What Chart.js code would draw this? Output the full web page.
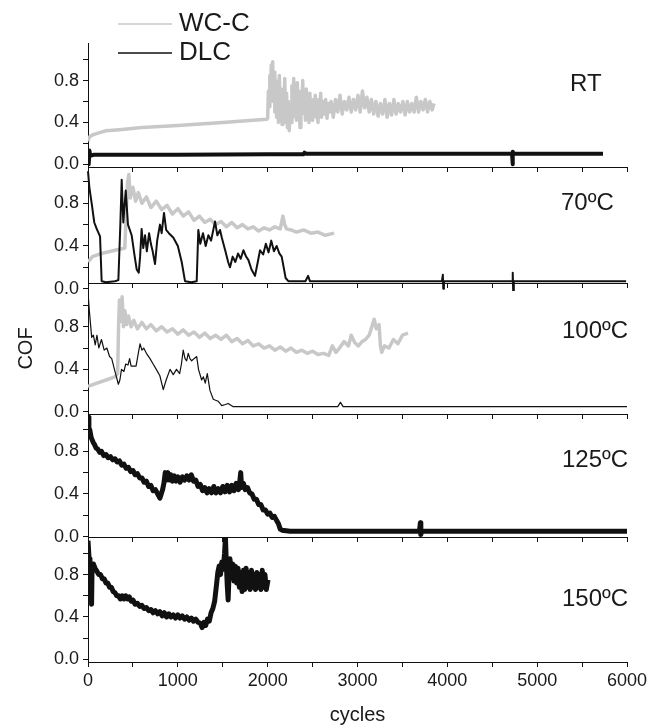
<!DOCTYPE html>
<html>
<head>
<meta charset="utf-8">
<script src="https://cdn.jsdelivr.net/npm/chart.js@4/dist/chart.umd.min.js"></script>
<style>
  html, body { margin: 0; padding: 0; background: #fff; }
  #wrap { position: relative; width: 662px; height: 727px; }
  #wrap canvas { position: absolute; left: 0; top: 0; }
</style>
</head>
<body>
<div id="wrap">
  <canvas id="panel0" width="662" height="727"></canvas>
  <canvas id="panel1" width="662" height="727"></canvas>
  <canvas id="panel2" width="662" height="727"></canvas>
  <canvas id="panel3" width="662" height="727"></canvas>
  <canvas id="panel4" width="662" height="727"></canvas>
</div>
<script>
// ticks and labels
const ciclosTicks = [0, 500, 1000, 1500, 2000, 2500, 3000, 3500, 4000, 4500, 5000, 5500, 6000];
const cofTicks = [0, 0.2, 0.4, 0.6, 0.8, 1.0];
const temperaturas = ['RT', '70ºC', '100ºC', '125ºC', '150ºC'];
const series = ['WC-C', 'DLC'];

// [cycles, COF]
const rtWc = [[0,0.22],[15,0.26],[50,0.28],[120,0.30],[200,0.32],[350,0.33],[600,0.35],[1000,0.37],[1500,0.40],[1990,0.43],
  [2000,0.44],[2008,0.70],[2016,0.55],[2024,0.85],[2032,0.60],[2040,0.95],[2048,0.70],[2056,0.98],[2064,0.60],[2072,0.88],[2080,0.50],[2090,0.80],[2100,0.45],[2110,0.75],[2120,0.40],[2130,0.85],[2140,0.50],[2150,0.72],[2160,0.38],[2170,0.70],[2180,0.45],[2190,0.82],[2200,0.40],[2210,0.68],[2220,0.35],[2230,0.60],[2240,0.32],[2250,0.55],[2260,0.40],[2270,0.75],[2280,0.45],[2290,0.82],[2300,0.50],[2310,0.70],[2320,0.42],[2330,0.78],[2340,0.45],[2350,0.62],[2360,0.35],[2370,0.70],[2380,0.48],[2390,0.80],[2400,0.50],[2410,0.68],[2420,0.42],[2430,0.72],[2440,0.48],[2450,0.62],[2460,0.40],[2470,0.68],[2480,0.45],[2490,0.60],[2500,0.42],[2510,0.62],[2520,0.48],[2530,0.66],[2540,0.45],[2550,0.60],[2560,0.40],[2570,0.62],[2580,0.50],[2590,0.68],[2600,0.45],[2615,0.60],[2630,0.48],[2645,0.62],[2660,0.44],[2675,0.58],[2690,0.50],[2705,0.60],
  [2730,0.45],[2755,0.62],[2780,0.50],[2805,0.66],[2830,0.48],[2855,0.60],[2880,0.52],[2905,0.64],[2930,0.50],[2955,0.62],[2980,0.52],[3005,0.66],[3030,0.50],[3055,0.70],[3080,0.54],[3105,0.64],[3130,0.50],[3155,0.62],[3180,0.48],[3205,0.60],[3230,0.46],[3255,0.58],[3280,0.48],[3305,0.62],[3330,0.45],[3355,0.58],[3380,0.47],[3405,0.62],[3430,0.48],[3455,0.58],[3480,0.50],[3505,0.60],[3530,0.47],[3555,0.60],[3580,0.50],[3605,0.58],[3630,0.50],[3655,0.64],[3680,0.50],[3705,0.60],[3730,0.52],[3755,0.62],[3780,0.50],[3805,0.60],[3830,0.52],[3852,0.58]];
const rtDlc = [[0,0.10],[8,0.0],[16,0.13],[25,0.08],[60,0.09],[1000,0.09],[2000,0.095],[2400,0.095],[2410,0.11],[2430,0.10],[3000,0.10],[4720,0.10],[4726,0.0],[4730,0.12],[4740,0.10],[5733,0.10]];

const t70Wc = [[0,0.25],[50,0.30],[150,0.33],[300,0.36],[410,0.38],[420,0.60],[440,1.00],[455,1.07],[470,0.85],[500,0.95],[530,0.82],[560,0.90],[600,0.80],[650,0.86],[700,0.76],[760,0.82],[820,0.74],[880,0.78],[940,0.70],[1000,0.75],[1060,0.68],[1120,0.72],[1180,0.64],[1240,0.68],[1300,0.62],[1360,0.65],[1420,0.60],[1480,0.63],[1540,0.58],[1600,0.62],[1660,0.57],[1720,0.60],[1780,0.56],[1840,0.58],[1900,0.54],[1960,0.57],[2020,0.55],[2080,0.58],[2140,0.56],[2170,0.68],[2190,0.60],[2210,0.56],[2260,0.55],[2320,0.53],[2400,0.55],[2480,0.52],[2560,0.53],[2640,0.50],[2740,0.52]];
const t70Dlc = [[0,1.10],[15,0.95],[41,0.80],[70,0.62],[97,0.56],[134,0.49],[152,0.07],[200,0.06],[300,0.07],[338,0.08],[360,0.60],[375,1.02],[393,0.62],[420,0.92],[445,0.60],[486,0.50],[520,0.30],[542,0.18],[565,0.15],[580,0.30],[597,0.56],[615,0.38],[635,0.50],[655,0.35],[680,0.52],[700,0.42],[720,0.35],[746,0.23],[770,0.45],[801,0.60],[820,0.52],[846,0.71],[870,0.55],[900,0.52],[949,0.48],[1000,0.40],[1043,0.25],[1080,0.07],[1150,0.06],[1210,0.07],[1228,0.55],[1250,0.42],[1280,0.52],[1310,0.40],[1340,0.50],[1370,0.45],[1414,0.63],[1440,0.50],[1470,0.55],[1489,0.48],[1530,0.35],[1560,0.25],[1581,0.20],[1610,0.30],[1640,0.25],[1670,0.33],[1700,0.28],[1730,0.36],[1760,0.30],[1785,0.27],[1820,0.18],[1859,0.12],[1890,0.25],[1915,0.36],[1950,0.32],[1980,0.42],[2010,0.34],[2040,0.45],[2070,0.35],[2100,0.40],[2130,0.33],[2156,0.30],[2200,0.10],[2230,0.07],[2420,0.07],[2450,0.12],[2470,0.07],[3940,0.07],[3950,0.13],[3955,0.0],[3962,0.07],[4720,0.07],[4728,0.15],[4733,-0.02],[4740,0.07],[5990,0.07]];

const t100Wc = [[0,0.24],[100,0.27],[200,0.30],[300,0.33],[330,0.36],[340,0.80],[350,1.05],[365,0.85],[380,1.08],[395,0.80],[410,0.95],[430,0.82],[450,0.90],[480,0.80],[510,0.86],[550,0.78],[600,0.84],[650,0.78],[700,0.82],[760,0.76],[820,0.80],[880,0.75],[940,0.78],[1000,0.73],[1060,0.77],[1120,0.72],[1180,0.75],[1240,0.70],[1300,0.74],[1360,0.69],[1420,0.72],[1480,0.68],[1540,0.72],[1600,0.66],[1660,0.69],[1720,0.64],[1780,0.67],[1840,0.62],[1900,0.64],[1960,0.60],[2020,0.62],[2080,0.58],[2140,0.61],[2200,0.57],[2260,0.60],[2320,0.56],[2380,0.58],[2440,0.55],[2500,0.57],[2560,0.54],[2620,0.55],[2680,0.53],[2720,0.62],[2760,0.56],[2800,0.60],[2850,0.66],[2900,0.62],[2930,0.72],[2970,0.65],[3010,0.62],[3050,0.66],[3090,0.68],[3130,0.72],[3160,0.80],[3185,0.87],[3210,0.78],[3240,0.82],[3255,0.62],[3270,0.56],[3300,0.62],[3350,0.60],[3400,0.68],[3450,0.64],[3500,0.72],[3562,0.74]];
const t100Dlc = [[0,1.12],[15,0.95],[41,0.70],[60,0.72],[80,0.63],[100,0.72],[120,0.60],[150,0.68],[180,0.58],[210,0.60],[240,0.52],[264,0.50],[300,0.38],[338,0.26],[355,0.30],[373,0.40],[400,0.38],[420,0.45],[445,0.44],[463,0.50],[480,0.43],[535,0.43],[560,0.55],[579,0.64],[600,0.58],[620,0.60],[650,0.55],[690,0.50],[725,0.45],[760,0.40],[800,0.34],[838,0.21],[870,0.30],[913,0.40],[949,0.35],[985,0.40],[1020,0.36],[1040,0.45],[1060,0.58],[1080,0.50],[1098,0.48],[1116,0.55],[1135,0.50],[1154,0.48],[1180,0.50],[1210,0.52],[1230,0.40],[1265,0.30],[1285,0.33],[1305,0.27],[1328,0.36],[1358,0.20],[1395,0.12],[1420,0.11],[1450,0.10],[1489,0.06],[1530,0.07],[1560,0.08],[1617,0.05],[2780,0.05],[2810,0.09],[2840,0.05],[6000,0.05]];

const t125Dlc = [[0,1.12],[10,1.02],[20,1.00],[35,0.93],[50,0.90],[60,0.88],[75,0.86],[90,0.83],[110,0.82],[130,0.79],[150,0.80],[175,0.76],[200,0.77],[225,0.74],[250,0.75],[275,0.72],[300,0.73],[325,0.70],[350,0.71],[375,0.67],[400,0.68],[425,0.64],[450,0.65],[475,0.61],[500,0.62],[525,0.58],[550,0.59],[575,0.55],[600,0.55],[625,0.51],[650,0.52],[675,0.47],[700,0.48],[725,0.43],[750,0.44],[775,0.40],[800,0.36],[815,0.40],[830,0.44],[845,0.50],[860,0.60],[875,0.53],[890,0.60],[905,0.53],[920,0.58],[940,0.52],[960,0.57],[980,0.52],[1000,0.56],[1025,0.51],[1050,0.56],[1075,0.53],[1100,0.57],[1125,0.53],[1150,0.58],[1175,0.52],[1200,0.53],[1225,0.47],[1250,0.49],[1275,0.43],[1300,0.46],[1325,0.41],[1350,0.45],[1375,0.41],[1400,0.47],[1425,0.41],[1450,0.45],[1475,0.41],[1500,0.47],[1525,0.42],[1550,0.48],[1575,0.42],[1600,0.48],[1625,0.43],[1650,0.50],[1675,0.44],[1690,0.52],[1700,0.60],[1710,0.46],[1730,0.50],[1750,0.44],[1775,0.46],[1800,0.41],[1825,0.40],[1850,0.35],[1875,0.35],[1900,0.30],[1925,0.30],[1950,0.25],[1975,0.25],[2000,0.21],[2025,0.22],[2050,0.18],[2075,0.19],[2100,0.15],[2120,0.12],[2140,0.07],[2160,0.06],[2250,0.05],[3690,0.05],[3700,0.13],[3705,0.02],[3712,0.05],[6000,0.05]];

const t150Dlc = [[0,1.12],[12,0.95],[22,0.88],[35,0.85],[40,0.52],[45,0.85],[60,0.90],[78,0.86],[100,0.83],[120,0.80],[140,0.80],[160,0.76],[180,0.76],[200,0.72],[220,0.72],[240,0.68],[260,0.68],[280,0.64],[300,0.63],[320,0.60],[340,0.60],[360,0.57],[380,0.60],[400,0.57],[420,0.60],[440,0.57],[460,0.59],[480,0.55],[500,0.56],[525,0.52],[550,0.53],[575,0.50],[600,0.51],[625,0.48],[650,0.49],[675,0.46],[700,0.47],[725,0.44],[750,0.46],[775,0.43],[800,0.45],[825,0.41],[850,0.44],[875,0.40],[900,0.43],[925,0.40],[950,0.42],[975,0.39],[1000,0.42],[1025,0.39],[1050,0.41],[1075,0.38],[1100,0.40],[1125,0.37],[1150,0.39],[1175,0.36],[1200,0.38],[1225,0.35],[1250,0.34],[1270,0.30],[1290,0.35],[1310,0.32],[1330,0.38],[1350,0.36],[1370,0.44],[1390,0.48],[1410,0.55],[1430,0.70],[1445,0.82],[1460,0.88],[1475,0.80],[1490,0.92],[1505,0.85],[1520,1.00],[1530,1.15],[1540,0.90],[1550,0.70],[1560,0.56],[1570,0.80],[1580,0.95],[1595,0.82],[1610,0.90],[1625,0.74],[1640,0.88],[1655,0.72],[1670,0.86],[1685,0.68],[1700,0.82],[1715,0.64],[1730,0.84],[1745,0.66],[1760,0.86],[1775,0.68],[1790,0.82],[1805,0.66],[1820,0.84],[1835,0.68],[1850,0.80],[1865,0.66],[1880,0.82],[1895,0.68],[1910,0.80],[1925,0.66],[1940,0.84],[1955,0.68],[1970,0.80],[1985,0.66],[2004,0.75]];

const FUENTE = "'Liberation Sans', Arial, sans-serif";
const TINTA = '#1a1a1a';
const GRIS = '#c8c8c8';

// layout of each panel on the page (pixels) and its y range
const paneles = [
    { top: 43, bottom: 167, min: -0.027, max: 1.16, etiqueta: [570, 84] },
    { top: 167, bottom: 283, min: 0.053, max: 1.14, etiqueta: [561, 203] },
    { top: 283, bottom: 414, min: -0.019, max: 1.21, etiqueta: [562, 331] },
    { top: 414, bottom: 537, min: -0.004, max: 1.15, etiqueta: [562, 460] },
    { top: 537, bottom: 662, min: -0.025, max: 1.155, etiqueta: [562, 599] }
];

function puntos(pares) {
    return pares.map(([x, y]) => ({ x, y }));
}

function serieWc(pares, ancho) {
    return { label: series[0], data: puntos(pares), borderColor: GRIS, borderWidth: ancho, order: 1 };
}

function serieDlc(pares, ancho, extra = {}) {
    return { label: series[1], data: puntos(pares), borderColor: '#111', borderWidth: ancho, order: 0, ...extra };
}

const etiquetasPlugin = {
    id: 'etiquetas',
    afterDraw(chart, args, opts) {
        const ctx = chart.ctx;
        ctx.save();
        ctx.fillStyle = TINTA;
        ctx.textBaseline = 'middle';
        ctx.textAlign = 'left';
        ctx.font = `24px ${FUENTE}`;
        ctx.fillText(opts.texto, opts.x, opts.y);
        if (opts.leyenda) {
            // legend drawn from the datasets of the first panel
            ctx.font = `26px ${FUENTE}`;
            const filas = [24, 53];
            chart.data.datasets.forEach((ds, i) => {
                ctx.strokeStyle = ds.borderColor;
                ctx.lineWidth = 1.5;
                ctx.beginPath();
                ctx.moveTo(118, filas[i]);
                ctx.lineTo(172, filas[i]);
                ctx.stroke();
                ctx.fillText(ds.label, 179, filas[i]);
            });
        }
        ctx.restore();
    }
};

function crearPanel(idx, datasets) {
    const caja = paneles[idx];
    const ultimo = idx === paneles.length - 1;
    const altoEjeX = ultimo ? 65 : 6;
    return new Chart(document.getElementById('panel' + idx), {
        type: 'line',
        data: { datasets },
        options: {
            responsive: false,
            animation: false,
            events: [],
            layout: { padding: { top: caja.top, bottom: 727 - caja.bottom - altoEjeX, left: 0, right: 35 } },
            elements: { point: { radius: 0 }, line: { tension: 0, borderJoinStyle: 'round' } },
            plugins: {
                legend: { display: false },
                tooltip: { enabled: false },
                etiquetas: { texto: temperaturas[idx], x: caja.etiqueta[0], y: caja.etiqueta[1], leyenda: idx === 0 }
            },
            scales: {
                x: {
                    type: 'linear',
                    min: 0,
                    max: 6000,
                    afterBuildTicks: (s) => { s.ticks = ciclosTicks.map((v) => ({ value: v })); },
                    afterFit: (s) => { s.height = altoEjeX; },
                    ticks: {
                        display: ultimo,
                        autoSkip: false,
                        maxRotation: 0,
                        padding: 3,
                        color: TINTA,
                        font: { size: 18 },
                        callback: (v) => (v % 1000 === 0 ? String(v) : '')
                    },
                    grid: { drawOnChartArea: false, tickLength: 5, tickColor: '#111' },
                    border: { color: '#111', width: 1 },
                    title: { display: ultimo, text: 'cycles', color: TINTA, font: { size: 20 }, padding: 0 }
                },
                y: {
                    type: 'linear',
                    min: caja.min,
                    max: caja.max,
                    afterBuildTicks: (s) => { s.ticks = cofTicks.map((v) => ({ value: v })); },
                    afterFit: (s) => { s.width = 88; },
                    ticks: {
                        autoSkip: false,
                        padding: 4,
                        color: TINTA,
                        font: { size: 18 },
                        callback: (v) => (Math.round(v * 10) % 4 === 0 ? v.toFixed(1) : '')
                    },
                    grid: { drawOnChartArea: false, tickLength: 5, tickColor: '#111' },
                    border: { color: '#111', width: 1 },
                    title: { display: idx === 2, text: 'COF', color: TINTA, font: { size: 20 }, padding: { top: 14, bottom: 0 } }
                }
            }
        },
        plugins: [etiquetasPlugin]
    });
}

document.addEventListener('DOMContentLoaded', () => {
    Chart.defaults.font.family = FUENTE;
    crearPanel(0, [serieWc(rtWc, 3.5), serieDlc(rtDlc, 4)]);
    crearPanel(1, [serieWc(t70Wc, 3.5), serieDlc(t70Dlc, 2, { clip: 8 })]);
    crearPanel(2, [serieWc(t100Wc, 3.5), serieDlc(t100Dlc, 1.2)]);
    crearPanel(3, [serieDlc(t125Dlc, 5)]);
    crearPanel(4, [serieDlc(t150Dlc, 5)]);
});
</script>
</body>
</html>
